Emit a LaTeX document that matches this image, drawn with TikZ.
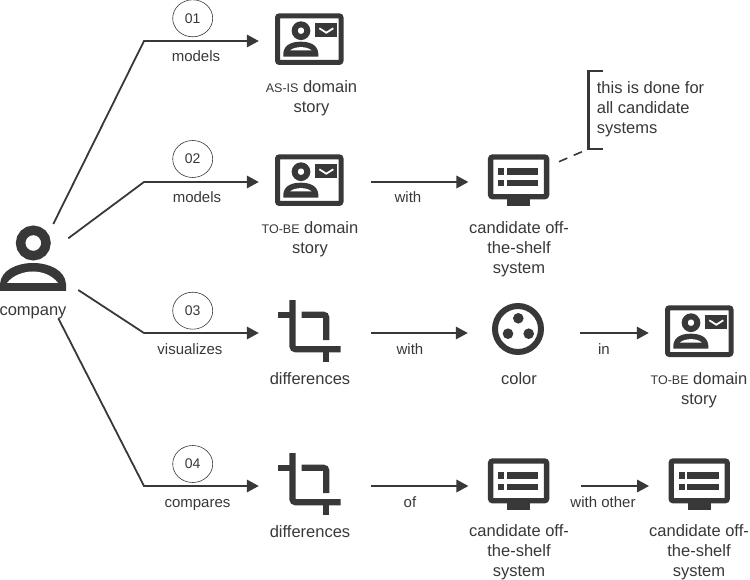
\documentclass[tikz,border=0pt]{standalone}
\usepackage{fontspec}
\setmainfont{Liberation Sans}
\usetikzlibrary{arrows.meta,shapes.geometric}
\definecolor{inkcol}{HTML}{383838}
\newcommand{\capsize}{\fontsize{12.5}{20}\selectfont}
\tikzset{
    iconbox/.style={minimum width=68pt, minimum height=52pt, inner sep=0pt},
    flow/.style={draw=inkcol, line width=1.8pt, -{Triangle[length=12pt,width=12.5pt]}, shorten >=16pt},
    nextflow/.style={flow, shorten <=28pt},
    numberlabel/.style={draw=inkcol, line width=0.6pt, ellipse, minimum width=40pt, minimum height=37pt, inner sep=0pt, text=inkcol, font=\fontsize{14}{16}\selectfont},
    edgelabel/.style={text=inkcol, inner sep=0pt, text height=11pt, text depth=3pt, font=\fontsize{15}{20}\selectfont},
    caption/.style={text=inkcol, inner sep=0pt, align=center, font=\fontsize{16.5}{20}\selectfont},
    storyicon/.pic={
        \draw[inkcol, line width=5pt, rounded corners=2pt] (-31.5,-25.2) rectangle (32,21.5); %frame
        \draw[inkcol, line width=6pt] (-8,-10.3) circle (6.3); %head
        \fill[inkcol] (-25.7,15.7) -- (-25.7,12.5) .. controls (-25,3) and (-16,0.7) .. (-8.2,0.7) .. controls (-0.4,0.7) and (8.6,3) .. (9.3,12.5) -- (9.3,15.7) -- cycle; %body
        \fill[white] (-19,9.5) .. controls (-14,5) and (-2,5) .. (2.7,9.5) -- cycle; %lens
        \fill[inkcol] (6,-17.7) rectangle (28.3,-4.3); %envelope
        \draw[white, line width=1.8pt] (10.3,-12.7) -- (17.3,-8.3) -- (24.3,-12.7); %flap
    },
    systemicon/.pic={
        \draw[inkcol, line width=5.3pt, rounded corners=2pt] (-28,-25) rectangle (28,14.7); %screen
        \fill[inkcol] (-11.7,14.7) rectangle (11.7,24); %stand
        \fill[inkcol] (-20.3,-13.7) rectangle (-14.3,-7); %bullet
        \fill[inkcol] (-20.3,-2) rectangle (-14.3,3.7); %bullet
        \fill[inkcol] (-12,-13.7) rectangle (19.7,-7); %bar
        \fill[inkcol] (-12,-2) rectangle (19.7,3.7); %bar
    },
    cropicon/.pic={
        \draw[inkcol, line width=6.2pt, rounded corners=3pt] (-16.5,-33) -- (-16.5,16.2) -- (31.7,16.2); %long
        \draw[inkcol, line width=6.2pt] (-30.7,-18.3) -- (-16.5,-18.3); %stub
        \draw[inkcol, line width=6.2pt, rounded corners=3pt] (-7.3,-18.3) -- (17.3,-18.3) -- (17.3,7); %short
        \draw[inkcol, line width=6.2pt] (17.3,16.2) -- (17.3,29.3); %stub
    },
    coloricon/.pic={
        \draw[inkcol, line width=6pt] (0,-4) circle (23); %ring
        \fill[inkcol] (0.3,-14.7) circle (5.3); %dot
        \fill[inkcol] (-10,0.7) circle (5.3); %dot
        \fill[inkcol] (10.7,0.7) circle (5.3); %dot
    },
    personicon/.pic={
        \draw[inkcol, line width=9.5pt] (0.3,-15) circle (12.7); %head
        \fill[inkcol] (-33,33) -- (-33,26) .. controls (-32,12) and (-16,5) .. (0,5) .. controls (16,5) and (32,12) .. (33,26) -- (33,33) -- cycle; %body
        \fill[white] (-26,25) .. controls (-20,17) and (-9,13.5) .. (0,13.5) .. controls (9,13.5) and (19,17) .. (25,25) -- cycle; %lens
    }
}
\begin{document}
\begin{tikzpicture}[x=1pt,y=-1pt]
        \useasboundingbox (0,0) rectangle (750,580);

        \node[iconbox] (company) at (33,258) {}; %person
        \pic at (company) {personicon};
        \node[caption] (companytext) at (33,312.5) {company};

        \node[iconbox] (story1) at (309,41) {}; %row 1
        \pic at (story1) {storyicon};
        \node[caption] (story1text) at (311.5,98) {{\capsize AS-IS} domain\\story};

        \node[iconbox] (story2) at (309,182) {}; %row 2
        \pic at (story2) {storyicon};
        \node[iconbox] (system2) at (518.6,182) {};
        \pic at (system2) {systemicon};
        \node[caption] (story2text) at (310,239) {{\capsize TO-BE} domain\\story};
        \node[caption] (system2text) at (519,249) {candidate off-\\the-shelf\\system};

        \node[iconbox] (crop3) at (309,333) {}; %row 3
        \pic at (crop3) {cropicon};
        \node[iconbox] (color3) at (518,333) {};
        \pic at (color3) {coloricon};
        \node[iconbox] (story3) at (699,333) {};
        \pic at (story3) {storyicon};
        \node[caption] (crop3text) at (310,379) {differences};
        \node[caption] (color3text) at (519,379) {color};
        \node[caption] (story3text) at (699,390) {{\capsize TO-BE} domain\\story};

        \node[iconbox] (crop4) at (309,486) {}; %row 4
        \pic at (crop4) {cropicon};
        \node[iconbox] (system4) at (518.6,486) {};
        \pic at (system4) {systemicon};
        \node[iconbox] (other4) at (699.2,486) {};
        \pic at (other4) {systemicon};
        \node[caption] (crop4text) at (310,532) {differences};
        \node[caption] (system4text) at (519,552.5) {candidate off-\\the-shelf\\system};
        \node[caption] (other4text) at (699,552.5) {candidate off-\\the-shelf\\system};

        \coordinate (out1) at (53.3,224);
        \coordinate (out2) at (68.3,238.3);
        \coordinate (out3) at (78.3,290);
        \coordinate (out4) at (58.3,318.3);
        \coordinate (bend1) at (144,41);
        \coordinate (bend2) at (144,182);
        \coordinate (bend3) at (144,333);
        \coordinate (bend4) at (144,486);

        \draw[flow] (out1) -- (bend1) -- (story1.west);
        \draw[flow] (out2) -- (bend2) -- (story2.west);
        \draw[flow] (out3) -- (bend3) -- (crop3.west);
        \draw[flow] (out4) -- (bend4) -- (crop4.west);
        \draw[nextflow] (story2.east) -- (system2.west);
        \draw[nextflow] (crop3.east) -- (color3.west);
        \draw[nextflow] (color3.east) -- (story3.west);
        \draw[nextflow] (crop4.east) -- (system4.west);
        \draw[nextflow] (system4.east) -- (other4.west);

        \node[numberlabel] (num1) at (192.7,18.3) {01};
        \node[numberlabel] (num2) at (192.7,159) {02};
        \node[numberlabel] (num3) at (192.7,310.7) {03};
        \node[numberlabel] (num4) at (192.7,464) {04};

        \node[edgelabel] (verb1) at (196,58) {models};
        \node[edgelabel] (verb2) at (197,199) {models};
        \node[edgelabel] (verb3) at (190,350) {visualizes};
        \node[edgelabel] (verb4) at (197.5,503) {compares};
        \node[edgelabel] (with2) at (408,199) {with};
        \node[edgelabel] (with3) at (410,350) {with};
        \node[edgelabel] (in3) at (604,350) {in};
        \node[edgelabel] (of4) at (410,503) {of};
        \node[edgelabel] (with4) at (603,503) {with other};

        \node[caption, align=left, anchor=west] (note) at (596.7,109) {this is done for\\all candidate\\systems}; %note
        \coordinate (notetop) at (588.3,71);
        \coordinate (notebottom) at (588.3,149);
        \draw[inkcol, line width=2.6pt] ([xshift=15pt]notetop) -- (notetop) -- (notebottom) -- ([xshift=15pt]notebottom);
        \coordinate (noteout) at (559,161.7);
        \draw[inkcol, line width=1.6pt, dash pattern=on 9pt off 7pt] (noteout) -- (notebottom);
    \end{tikzpicture}
\end{document}
